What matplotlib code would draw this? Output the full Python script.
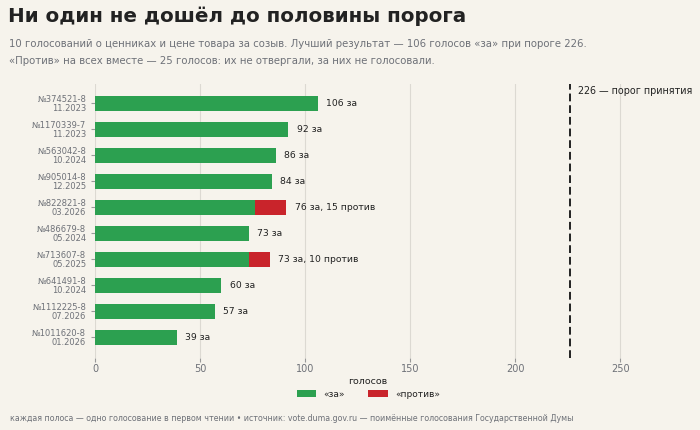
import matplotlib
matplotlib.use("Agg")
from matplotlib import pyplot as plt
from matplotlib.patches import Patch

# данные голосований (сверху вниз)
bills = ["№374521-8", "№1170339-7", "№563042-8", "№905014-8", "№822821-8",
         "№486679-8", "№713607-8", "№641491-8", "№1112225-8", "№1011620-8"]
dates = ["11.2023", "11.2023", "10.2024", "12.2025", "03.2026",
         "05.2024", "05.2025", "10.2024", "07.2026", "01.2026"]
votes_for = [106, 92, 86, 84, 76, 73, 73, 60, 57, 39]
votes_against = [0, 0, 0, 0, 15, 0, 10, 0, 0, 0]
threshold = 226

bg = "#f6f3ec"
green = "#2ca050"
red = "#c9242b"
grey = "#6e7178"
dark = "#222222"

plt.rcParams['font.family'] = ['DejaVu Sans']

fig = plt.figure(figsize=(7, 4.3), dpi=100)
fig.set_facecolor(bg)
ax = fig.add_axes([0.136, 0.167, 0.780, 0.638])
ax.set_facecolor(bg)

y = list(range(len(bills)))
ax.barh(y, votes_for, height=0.6, color=green, linewidth=0, zorder=3)
ax.barh(y, votes_against, left=votes_for, height=0.6, color=red, linewidth=0, zorder=3)

# подписи у полос
for i in y:
    total = votes_for[i] + votes_against[i]
    if votes_against[i]:
        txt = f"{votes_for[i]} за, {votes_against[i]} против"
    else:
        txt = f"{votes_for[i]} за"
    ax.annotate(txt, (total, i), xytext=(6, 0), textcoords="offset points",
                va="center", ha="left", fontsize=6.7, color=dark, zorder=4)

# порог
ax.axvline(threshold, color=dark, linestyle=(0, (4, 2)), linewidth=1.4, zorder=4)
ax.text(threshold + 4, 0.975, f"{threshold} — порог принятия", transform=ax.get_xaxis_transform(),
        ha="left", va="center", fontsize=6.9, color=dark, clip_on=False)

ax.set_xlim(0, 260)
ax.set_ylim(9.8, -0.75)
ax.set_xticks([0, 50, 100, 150, 200, 250])
ax.set_yticks(y)
ax.set_yticklabels([f"{b}\n{d}" for b, d in zip(bills, dates)], fontsize=6, color=grey,
                   linespacing=1.0)
ax.tick_params(axis="x", colors=grey, labelsize=7, length=3, color="#999999", pad=1.5)
ax.tick_params(axis="y", length=3, color="#999999")
ax.grid(axis="x", color="#dcd9d2", linewidth=0.8, zorder=0)
for s in ax.spines.values():
    s.set_visible(False)
ax.set_xlabel("голосов", fontsize=6.8, color=dark, labelpad=2)

handles = [Patch(facecolor=green, label="«за»"),
           Patch(facecolor=red, label="«против»")]
fig.legend(handles=handles, loc="center", bbox_to_anchor=(0.526, 0.083), ncol=2,
           frameon=False, fontsize=6.5, handlelength=2.2, columnspacing=2.5,
           labelcolor=dark)

fig.text(0.011, 0.962, "Ни один не дошёл до половины порога", fontsize=14.3,
         fontweight="bold", color=dark, va="center")
fig.text(0.013, 0.898, "10 голосований о ценниках и цене товара за созыв. Лучший результат — 106 голосов «за» при пороге 226.",
         fontsize=7.25, color=grey, va="center")
fig.text(0.013, 0.859, "«Против» на всех вместе — 25 голосов: их не отвергали, за них не голосовали.",
         fontsize=7.25, color=grey, va="center")
fig.text(0.015, 0.026, "каждая полоса — одно голосование в первом чтении • источник: vote.duma.gov.ru — поимённые голосования Государственной Думы",
         fontsize=5.65, color=grey, va="center")

fig.savefig("out.png", dpi=100, facecolor=bg)
